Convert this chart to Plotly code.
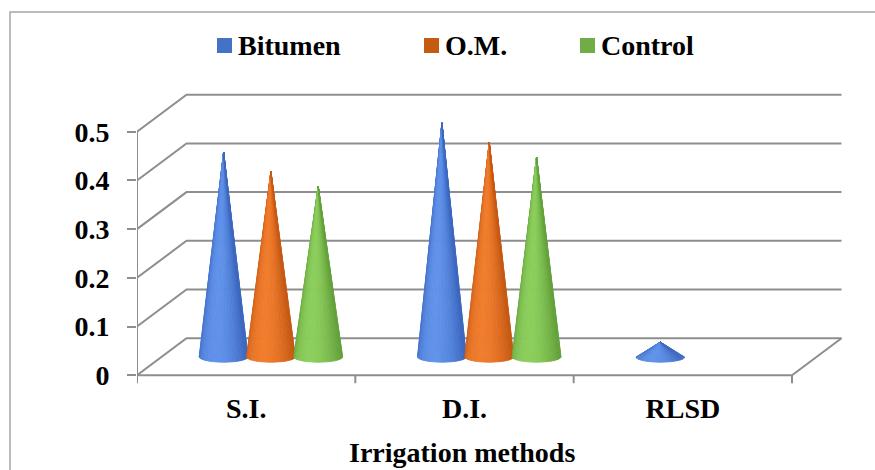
import numpy as np
import plotly.graph_objects as go

# ---------------- data ----------------
categories = ["S.I.", "D.I.", "RLSD"]
series_names = ["Bitumen", "O.M.", "Control"]
bitumen = [0.42, 0.48, 0.03]
om = [0.38, 0.44, 0.0]
control = [0.35, 0.41, 0.0]
y_ticks = [0, 0.1, 0.2, 0.3, 0.4, 0.5]
y_tick_labels = ["0", "0.1", "0.2", "0.3", "0.4", "0.5"]
x_title = "Irrigation methods"

series_values = [bitumen, om, control]
legend_colors = ["#4472C4", "#C55A11", "#70AD47"]
# (dark, light) shading colours of the cones
cone_shades = [((54, 96, 184), (96, 146, 234)),
               ((192, 84, 16), (240, 124, 44)),
               ((94, 154, 54), (140, 206, 92))]

# ---------------- geometry (pixels) ----------------
W, H = 875, 470
ML, MR, MT, MB = 137, 25, 80, 84
PX_X = 655 / 3.0          # pixels per category
PX_Y = 487.0              # pixels per value unit
ZERO_PX = 375.2           # pixel row of value 0 (front)
plot_w = W - ML - MR
plot_h = H - MT - MB
x_range = [-0.5, -0.5 + plot_w / PX_X]
y_range = [-(H - MB - ZERO_PX) / PX_Y, (ZERO_PX - MT) / PX_Y]

DX = 49.5 / PX_X          # depth offset
DY = 37.0 / PX_Y
RX = 24.5 / PX_X          # cone base radii
RY = 5.5 / PX_Y
SPACING = 47.3 / PX_X
GRID = "#8E8E8E"

n_cat = len(categories)
x_left, x_right = -0.5, n_cat - 0.5

def px2xp(px):
    return (px - ML) / plot_w

def py2yp(py):
    return (H - MB - py) / plot_h

fig = go.Figure()

# back wall + side wall gridlines
gx, gy = [], []
for v in y_ticks:
    gx += [x_left, x_left + DX, x_right + DX, None]
    gy += [v, v + DY, v + DY, None]
# floor front edge and right edge
gx += [x_left, x_right, x_right + DX, None]
gy += [0, 0, DY, None]
# vertical value axis
gx += [x_left, x_left, None]
gy += [0, max(y_ticks), None]
# category boundary ticks
for b in np.arange(x_left, x_right + 0.01, 1.0):
    gx += [b, b, None]
    gy += [0, -8.0 / PX_Y, None]
fig.add_trace(go.Scatter(x=gx, y=gy, mode="lines",
                         line=dict(color=GRID, width=2),
                         hoverinfo="skip", showlegend=False))

# cones
N = 36
theta = np.linspace(0, np.pi, N + 1)
light_dir = np.deg2rad(72.0)
for j, vals in enumerate(series_values):
    dark, light = cone_shades[j]
    for i, v in enumerate(vals):
        if v <= 0:
            continue
        cx = i + (j - 1) * SPACING + DX / 2
        by = DY / 2
        ay = by + v
        for k in range(N):
            t0, t1 = theta[k], theta[k + 1]
            tm = 0.5 * (t0 + t1)
            d = max(0.0, np.cos(tm - light_dir))
            f = 0.15 + 0.85 * d ** 1.6
            c = tuple(int(round(dark[m] + (light[m] - dark[m]) * f)) for m in range(3))
            col = "rgb(%d,%d,%d)" % c
            xs = [cx, cx - RX * np.cos(t0), cx - RX * np.cos(t1), cx]
            ys = [ay, by - RY * np.sin(t0), by - RY * np.sin(t1), ay]
            fig.add_trace(go.Scatter(x=xs, y=ys, mode="lines", fill="toself",
                                     fillcolor=col, line=dict(color=col, width=0.8),
                                     hoverinfo="skip", showlegend=False))

font_main = dict(family="Liberation Serif", size=28, color="black", weight="bold")

shapes = []
annotations = []
# outer chart border
shapes.append(dict(type="rect", xref="paper", yref="paper",
                   x0=px2xp(10), y0=py2yp(12), x1=px2xp(890), y1=py2yp(490),
                   line=dict(color="#A6A6A6", width=1.5), fillcolor="rgba(0,0,0,0)",
                   layer="below"))

# legend (manual, Excel-like spacing)
legend_sq_px = [217, 424, 580]
for name, col, sx in zip(series_names, legend_colors, legend_sq_px):
    shapes.append(dict(type="rect", xref="paper", yref="paper",
                       x0=px2xp(sx), x1=px2xp(sx + 15),
                       y0=py2yp(53), y1=py2yp(38),
                       fillcolor=col, line=dict(width=0)))
    annotations.append(dict(text=name, xref="paper", yref="paper",
                            x=px2xp(sx + 19), y=py2yp(45.5),
                            xanchor="left", yanchor="middle",
                            showarrow=False, font=font_main))

# x axis title
annotations.append(dict(text=x_title, xref="x", yref="paper",
                        x=(n_cat - 1) / 2.0 - 0.013, y=py2yp(470),
                        xanchor="center", yanchor="bottom",
                        showarrow=False, font=font_main))

fig.update_layout(
    width=W, height=H,
    margin=dict(l=ML, r=MR, t=MT, b=MB),
    paper_bgcolor="white", plot_bgcolor="white",
    showlegend=False,
    shapes=shapes, annotations=annotations,
    xaxis=dict(range=x_range, tickvals=list(range(n_cat)), ticktext=categories,
               showgrid=False, zeroline=False, showline=False, ticks="",
               tickfont=font_main, ticklabelstandoff=3, fixedrange=True),
    yaxis=dict(range=y_range, tickvals=y_ticks, ticktext=y_tick_labels,
               showgrid=False, zeroline=False, showline=False,
               ticks="outside", ticklen=9, tickwidth=2, tickcolor=GRID,
               tickfont=font_main, ticklabelstandoff=12, fixedrange=True),
)

fig.write_html("out.html")
